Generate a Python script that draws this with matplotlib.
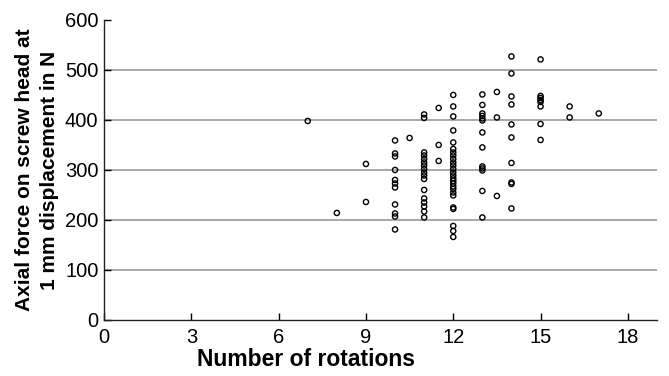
import matplotlib
matplotlib.use("Agg")
import matplotlib.pyplot as plt

# number of rotations per specimen and the axial force
rot_7 = [7]
force_7 = [398]
rot_8 = [8]
force_8 = [214]
rot_9 = [9, 9]
force_9 = [312, 236]
rot_10 = [10] * 11
force_10 = [359, 333, 327, 300, 280, 273, 265, 231, 213, 207, 181]
rot_10_5 = [10.5]
force_10_5 = [364]
rot_11 = [11] * 17
force_11 = [411, 404, 335, 329, 322, 315, 309, 302, 295, 289, 282,
            260, 243, 235, 227, 217, 205]
rot_11_5 = [11.5] * 3
force_11_5 = [424, 350, 318]
rot_12 = [12] * 26
force_12 = [450, 427, 407, 379, 355, 342, 335, 329, 322, 315, 309, 302, 295,
            289, 283, 278, 273, 267, 262, 255, 249, 225, 222, 188, 178, 166]
rot_13 = [13] * 13
force_13 = [451, 430, 413, 408, 403, 399, 375, 345, 307, 303, 299, 258, 205]
rot_13_5 = [13.5] * 3
force_13_5 = [456, 405, 248]
rot_14 = [14] * 10
force_14 = [527, 493, 447, 431, 391, 365, 314, 275, 272, 223]
rot_15 = [15] * 8
force_15 = [521, 448, 444, 440, 436, 427, 392, 360]
rot_16 = [16, 16]
force_16 = [427, 405]
rot_17 = [17]
force_17 = [413]

rotations = (rot_7 + rot_8 + rot_9 + rot_10 + rot_10_5 + rot_11 + rot_11_5 + rot_12
             + rot_13 + rot_13_5 + rot_14 + rot_15 + rot_16 + rot_17)
forces = (force_7 + force_8 + force_9 + force_10 + force_10_5 + force_11 + force_11_5
          + force_12 + force_13 + force_13_5 + force_14 + force_15 + force_16 + force_17)

x_ticks = [0, 3, 6, 9, 12, 15, 18]
y_ticks = [0, 100, 200, 300, 400, 500, 600]

plt.rcParams["font.family"] = ["Liberation Sans", "DejaVu Sans"]

fig = plt.figure(figsize=(6.69, 3.76), dpi=100)
ax = fig.add_axes([0.1555, 0.149, 0.8265, 0.798])

for y in y_ticks[1:-1]:
    ax.axhline(y, color="#9a9a9a", lw=1.2, zorder=1)

ax.scatter(rotations, forces, s=14, facecolors="none", edgecolors="black",
           linewidths=1.0, zorder=3)

ax.set_xlim(0, 19)
ax.set_ylim(0, 600)
ax.set_xticks(x_ticks)
ax.set_yticks(y_ticks)
ax.tick_params(direction="in", length=5, width=1, labelsize=14.5)
ax.tick_params(axis="x", pad=6)
ax.tick_params(axis="y", pad=4)
for side in ["top", "right"]:
    ax.spines[side].set_visible(False)
for side in ["left", "bottom"]:
    ax.spines[side].set_color("#222222")
    ax.spines[side].set_linewidth(1.0)

ax.set_xlabel("Number of rotations", fontsize=16.5, fontweight="bold", labelpad=0)
ax.xaxis.set_label_coords(0.365, -0.095)
ax.set_ylabel("Axial force on screw head at\n1 mm displacement in N", fontsize=15,
              fontweight="bold", labelpad=4, linespacing=1.45)

fig.savefig("out.png", dpi=100)
